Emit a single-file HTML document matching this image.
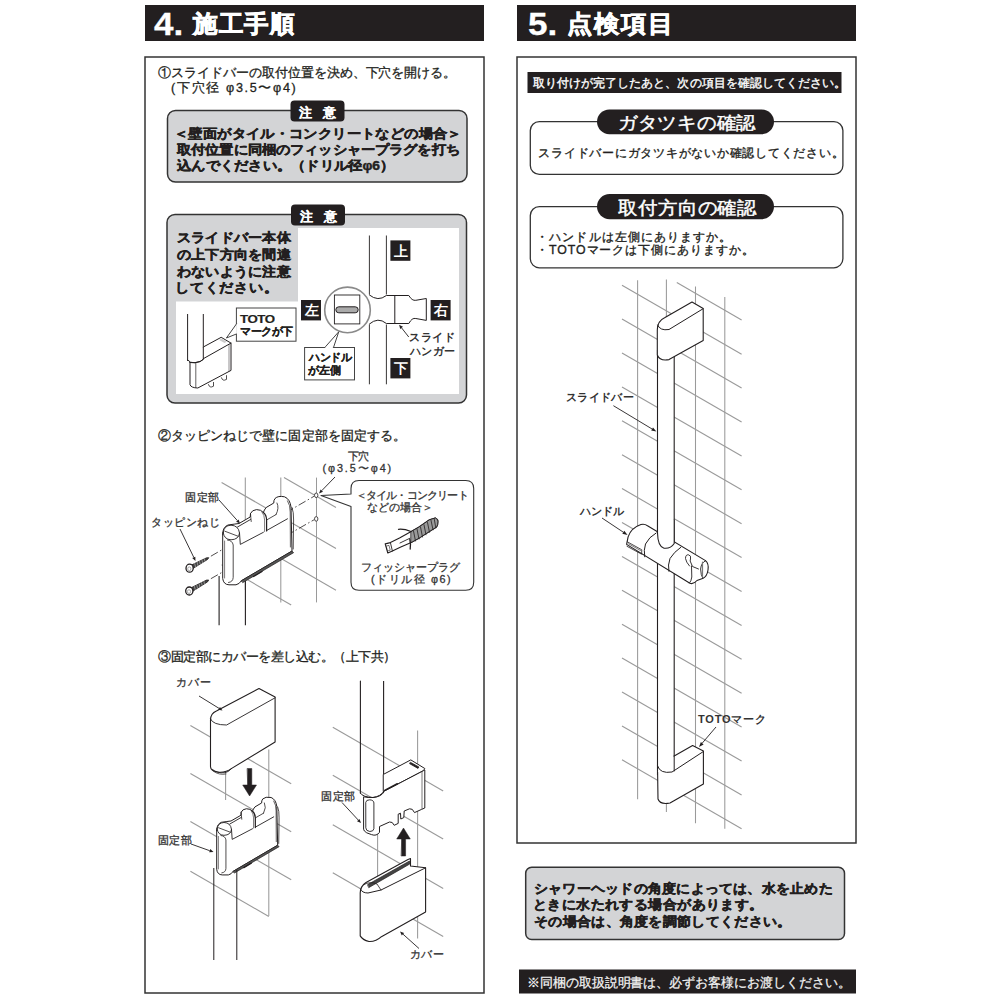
<!DOCTYPE html><html lang="ja"><head><meta charset="utf-8"><title>施工手順・点検項目</title><style>
html,body{margin:0;padding:0;background:#fff;}body{width:1000px;height:1000px;position:relative;overflow:hidden;font-family:"Liberation Sans",sans-serif;}
.t{position:absolute;white-space:nowrap;line-height:1;}
svg{position:absolute;left:0;top:0;}
</style></head><body>
<svg width="1000" height="1000" viewBox="0 0 1000 1000">
<rect x="145" y="5" width="339" height="36" rx="0" fill="#231f20" stroke="none" stroke-width="1" />
<rect x="145" y="57" width="339" height="936" rx="0" fill="none" stroke="#333" stroke-width="1.5" />
<rect x="167.5" y="110.5" width="299.5" height="71.5" rx="8" fill="#d3d4d6" stroke="#333" stroke-width="1.5" />
<rect x="290.5" y="100.5" width="54" height="21" rx="4" fill="#231f20" stroke="none" stroke-width="1" />
<rect x="167" y="214.5" width="299.5" height="188.5" rx="8" fill="#d3d4d6" stroke="#333" stroke-width="1.5" />
<rect x="298" y="228" width="161" height="166" rx="0" fill="#fff" stroke="none" stroke-width="1" />
<rect x="176" y="301.5" width="123" height="92.5" rx="0" fill="#fff" stroke="none" stroke-width="1" />
<rect x="291" y="204.5" width="54" height="21" rx="4" fill="#231f20" stroke="none" stroke-width="1" />
<line x1="187.6" y1="314" x2="187.6" y2="361" stroke="#231f20" stroke-width="1.0" />
<line x1="203.3" y1="314" x2="203.3" y2="347.5" stroke="#231f20" stroke-width="1.0" />
<path d="M190,362.5 L190,384.7 Q191,387.8 197.8,388 L231,370.4 L231,343.1 L221.2,337.3 L203.3,347 L203.3,359.4 Q201,362 195,362.6 Q192,362.8 190,362.5 Z" fill="#fff" stroke="#231f20" stroke-width="1.0" stroke-linejoin="round" stroke-linecap="round" />
<path d="M187.6,360 Q190,363.2 195,362.8 Q201,362.2 203.3,359.4" fill="none" stroke="#231f20" stroke-width="1.0" stroke-linejoin="round" stroke-linecap="round" />
<path d="M203.3,358.7 L231,343.1" fill="none" stroke="#231f20" stroke-width="1.0" stroke-linejoin="round" stroke-linecap="round" />
<path d="M195.8,363 L195.8,387.2" fill="none" stroke="#231f20" stroke-width="0.7" stroke-linejoin="round" stroke-linecap="round" />
<path d="M229,344.5 L229,371" fill="none" stroke="#231f20" stroke-width="0.5" stroke-linejoin="round" stroke-linecap="round" />
<path d="M208.5,384.6 Q209.5,388.5 213.5,386.2 L213.5,382.4 M221.5,377.8 Q222.5,381.7 226.5,379.4 L226.5,375.6" fill="none" stroke="#231f20" stroke-width="0.8" stroke-linejoin="round" stroke-linecap="round" />
<path d="M221.5,338.6 L226.8,341.8 L224.5,343.1 L219.2,340 Z" fill="#ccc" stroke="none" stroke-width="0" stroke-linejoin="round" stroke-linecap="round" />
<rect x="236.4" y="308" width="59.6" height="33.2" rx="0" fill="#fff" stroke="#444" stroke-width="1" />
<path d="M236.4,324 L226.4,338 L236.4,334" fill="#fff" stroke="#444" stroke-width="1" stroke-linejoin="round" stroke-linecap="round" />
<line x1="236.9" y1="324.5" x2="236.9" y2="333.5" stroke="#fff" stroke-width="1.4" />
<line x1="369.4" y1="235.5" x2="369.4" y2="294.5" stroke="#231f20" stroke-width="0.9" />
<line x1="386.4" y1="235.5" x2="386.4" y2="294.5" stroke="#231f20" stroke-width="0.9" />
<line x1="369.4" y1="324.5" x2="369.4" y2="384.3" stroke="#231f20" stroke-width="0.9" />
<line x1="386.4" y1="324.5" x2="386.4" y2="384.3" stroke="#231f20" stroke-width="0.9" />
<path d="M369.4,295 Q378,302 386.4,295.5 L408.8,295.5 Q412,301 415.8,300.3 L426.3,298.5 L426.3,320.4 L415.8,318.5 Q412,317.5 408.8,323.5 L386.4,323.5 Q378,316.5 369.4,324" fill="none" stroke="#231f20" stroke-width="1" stroke-linejoin="round" stroke-linecap="round" />
<line x1="394.8" y1="295.8" x2="394.8" y2="323.8" stroke="#231f20" stroke-width="1" />
<circle cx="347.5" cy="309.9" r="22.8" fill="#fff" stroke="#8a8a8a" stroke-width="1.6"/>
<rect x="334.4" y="295" width="25.4" height="28.9" rx="0" fill="#fff" stroke="#231f20" stroke-width="0.9" />
<rect x="335.8" y="306.8" width="22.4" height="6" rx="3" fill="#aaa" stroke="#231f20" stroke-width="1" />
<rect x="301" y="300" width="20" height="20.4" rx="0" fill="#231f20" stroke="none" stroke-width="1" />
<rect x="390.4" y="240.4" width="20" height="20.4" rx="0" fill="#231f20" stroke="none" stroke-width="1" />
<rect x="390.4" y="358" width="20" height="20.4" rx="0" fill="#231f20" stroke="none" stroke-width="1" />
<rect x="430.6" y="300" width="20" height="20.4" rx="0" fill="#231f20" stroke="none" stroke-width="1" />
<rect x="304.6" y="347.5" width="49.9" height="32.4" rx="0" fill="#fff" stroke="#444" stroke-width="1" />
<path d="M324.8,347.5 L338.75,331.75 L333.5,347.5" fill="#fff" stroke="#444" stroke-width="1" stroke-linejoin="round" stroke-linecap="round" />
<line x1="325.5" y1="347.5" x2="332.8" y2="347.5" stroke="#fff" stroke-width="1.4" />
<line x1="408.75" y1="337" x2="401.6" y2="327.9" stroke="#231f20" stroke-width="0.9"/>
<path d="M399.1,324.75 L403.0,326.8 L400.2,329.0 Z" fill="#231f20"/>
<line x1="245.3" y1="477.6" x2="245.3" y2="590" stroke="#9a9a9a" stroke-width="1.05" />
<line x1="280.8" y1="477.6" x2="280.8" y2="602.4" stroke="#9a9a9a" stroke-width="1.05" />
<line x1="316.5" y1="477.6" x2="316.5" y2="602.4" stroke="#9a9a9a" stroke-width="1.05" />
<line x1="221.6" y1="482.4" x2="336" y2="548.4" stroke="#9a9a9a" stroke-width="1.1" />
<line x1="284" y1="477.6" x2="336" y2="507.6" stroke="#9a9a9a" stroke-width="1.1" />
<line x1="230" y1="529.1" x2="336" y2="590.3" stroke="#9a9a9a" stroke-width="1.1" />
<line x1="221.6" y1="564.8" x2="291.2" y2="605.0" stroke="#9a9a9a" stroke-width="1.1" />
<line x1="210.9" y1="556.2" x2="314" y2="496.3" stroke="#231f20" stroke-width="0.8" stroke-dasharray="8,2.5,1.5,2.5"/>
<line x1="210.9" y1="578.7" x2="314" y2="519.8" stroke="#231f20" stroke-width="0.8" stroke-dasharray="8,2.5,1.5,2.5"/>
<line x1="219.1" y1="576" x2="219.1" y2="625.3" stroke="#231f20" stroke-width="1.1" />
<line x1="245.4" y1="581" x2="245.4" y2="625.3" stroke="#231f20" stroke-width="1.1" />
<g transform=""><path d="M222.7,534 L222.7,578.5 Q223.5,584.6 229,584.8 L236,584.8 Q239.5,584 241.4,580.7 L292,551 L291,507 Q290,499 284.5,496.8 Q278,495.5 275,498.5 Q273.5,500.5 273.8,503 L266.2,507.5 Q264,510 263.4,512.5 Q261,509.5 256.5,509.6 Q252,510 250.5,513.5 L250.2,517 L239,523.5 Q235,524 228,525 Q222.7,527 222.7,534 Z" fill="#fff" stroke="#231f20" stroke-width="1.0" stroke-linejoin="round" stroke-linecap="round" vector-effect="non-scaling-stroke"/><path d="M223.2,532.5 Q224,525.5 231,525.2 Q238.5,525.5 239.5,533 Q238.8,539.5 231,539.8 Q224,539.5 223.2,532.5 Z" fill="#fff" stroke="#231f20" stroke-width="0.9" stroke-linejoin="round" stroke-linecap="round" vector-effect="non-scaling-stroke"/><path d="M224.8,531.2 L238,536.2" fill="none" stroke="#231f20" stroke-width="0.8" stroke-linejoin="round" stroke-linecap="round" vector-effect="non-scaling-stroke"/><path d="M237.5,527 L250.5,519.5" fill="none" stroke="#231f20" stroke-width="0.9" stroke-linejoin="round" stroke-linecap="round" vector-effect="non-scaling-stroke"/><path d="M239.5,533 L240.3,544.4 L263.4,532.3" fill="none" stroke="#231f20" stroke-width="0.9" stroke-linejoin="round" stroke-linecap="round" vector-effect="non-scaling-stroke"/><path d="M250.5,513.5 Q250.8,518 251.2,521.5" fill="none" stroke="#231f20" stroke-width="0.8" stroke-linejoin="round" stroke-linecap="round" vector-effect="non-scaling-stroke"/><path d="M263.4,512.5 Q266.5,515 266.6,520 L266.6,531" fill="none" stroke="#231f20" stroke-width="1.2" stroke-linejoin="round" stroke-linecap="round" vector-effect="non-scaling-stroke"/><path d="M262,512 Q264.5,515 264.6,520 L264.6,531.5" fill="none" stroke="#231f20" stroke-width="0.6" stroke-linejoin="round" stroke-linecap="round" vector-effect="non-scaling-stroke"/><path d="M266.6,520 L276,514.6" fill="none" stroke="#231f20" stroke-width="0.8" stroke-linejoin="round" stroke-linecap="round" vector-effect="non-scaling-stroke"/><path d="M266.6,530.5 L287.5,518.8" fill="none" stroke="#231f20" stroke-width="0.9" stroke-linejoin="round" stroke-linecap="round" vector-effect="non-scaling-stroke"/><path d="M276,514.6 Q279.5,508 277,503" fill="none" stroke="#231f20" stroke-width="0.8" stroke-linejoin="round" stroke-linecap="round" vector-effect="non-scaling-stroke"/><path d="M287.5,500.8 Q290.3,505 290.2,512 L290.4,547" fill="none" stroke="#231f20" stroke-width="0.7" stroke-linejoin="round" stroke-linecap="round" vector-effect="non-scaling-stroke"/><path d="M292,507.5 Q293.8,512 293.6,520 L293.2,549" fill="none" stroke="#231f20" stroke-width="0.8" stroke-linejoin="round" stroke-linecap="round" vector-effect="non-scaling-stroke"/><path d="M227.5,540 Q232.5,540.5 233.2,545 L233.2,577.4 Q233,582 228.5,582.5" fill="none" stroke="#231f20" stroke-width="0.8" stroke-linejoin="round" stroke-linecap="round" vector-effect="non-scaling-stroke"/><path d="M224.6,541 L224.6,578" fill="none" stroke="#231f20" stroke-width="0.6" stroke-linejoin="round" stroke-linecap="round" vector-effect="non-scaling-stroke"/><path d="M241.4,580.7 L292,551 L293.6,552.7 L243,582.5 Z" fill="#555" stroke="#231f20" stroke-width="0.7" stroke-linejoin="round" stroke-linecap="round" vector-effect="non-scaling-stroke"/><path d="M253.5,576.5 L262,571.5" fill="none" stroke="#231f20" stroke-width="1.4" stroke-linejoin="round" stroke-linecap="round" vector-effect="non-scaling-stroke"/></g>
<path d="M193.3,568.3 L207.5,559.5 L208.8,557.7 L206.6,557.8 L191.5,565.0 Z" fill="#444" stroke="#231f20" stroke-width="0.8" stroke-linejoin="round" stroke-linecap="round" />
<path d="M195.6,566.9 L194.6,563.4" fill="none" stroke="#ddd" stroke-width="0.5" stroke-linejoin="round" stroke-linecap="round" />
<path d="M197.9,565.5 L197.1,562.3" fill="none" stroke="#ddd" stroke-width="0.5" stroke-linejoin="round" stroke-linecap="round" />
<path d="M200.2,564.1 L199.5,561.1" fill="none" stroke="#ddd" stroke-width="0.5" stroke-linejoin="round" stroke-linecap="round" />
<path d="M202.5,562.6 L202.0,560.0" fill="none" stroke="#ddd" stroke-width="0.5" stroke-linejoin="round" stroke-linecap="round" />
<path d="M204.8,561.2 L204.4,558.8" fill="none" stroke="#ddd" stroke-width="0.5" stroke-linejoin="round" stroke-linecap="round" />
<ellipse cx="189.6" cy="568.2" rx="3.6" ry="4.0" fill="#fff" stroke="#231f20" stroke-width="1.3"/>
<ellipse cx="189.29999999999998" cy="568.8000000000001" rx="1.6" ry="1.9" fill="none" stroke="#777" stroke-width="0.6"/>
<path d="M193.0,591.1 L207.5,581.9 L208.7,580.0 L206.5,580.1 L191.1,587.8 Z" fill="#444" stroke="#231f20" stroke-width="0.8" stroke-linejoin="round" stroke-linecap="round" />
<path d="M195.3,589.6 L194.3,586.2" fill="none" stroke="#ddd" stroke-width="0.5" stroke-linejoin="round" stroke-linecap="round" />
<path d="M197.6,588.1 L196.7,585.0" fill="none" stroke="#ddd" stroke-width="0.5" stroke-linejoin="round" stroke-linecap="round" />
<path d="M199.8,586.7 L199.1,583.8" fill="none" stroke="#ddd" stroke-width="0.5" stroke-linejoin="round" stroke-linecap="round" />
<path d="M202.1,585.2 L201.5,582.6" fill="none" stroke="#ddd" stroke-width="0.5" stroke-linejoin="round" stroke-linecap="round" />
<path d="M204.4,583.8 L204.0,581.4" fill="none" stroke="#ddd" stroke-width="0.5" stroke-linejoin="round" stroke-linecap="round" />
<ellipse cx="189.3" cy="591" rx="3.6" ry="4.0" fill="#fff" stroke="#231f20" stroke-width="1.3"/>
<ellipse cx="189.0" cy="591.6" rx="1.6" ry="1.9" fill="none" stroke="#777" stroke-width="0.6"/>
<ellipse cx="316.2" cy="495.3" rx="1.7" ry="2.3" fill="#fff" stroke="#231f20" stroke-width="0.8"/>
<ellipse cx="316.2" cy="518.9" rx="1.7" ry="2.3" fill="#fff" stroke="#231f20" stroke-width="0.8"/>
<line x1="219" y1="500" x2="237.3" y2="520.5" stroke="#231f20" stroke-width="0.9"/>
<path d="M240,523.5 L236.1,521.7 L238.6,519.4 Z" fill="#231f20"/>
<line x1="180" y1="529" x2="193.8" y2="557.4" stroke="#231f20" stroke-width="0.9"/>
<path d="M195.5,561 L192.2,558.1 L195.3,556.7 Z" fill="#231f20"/>
<line x1="335" y1="477" x2="321.8" y2="490.6" stroke="#231f20" stroke-width="0.9"/>
<path d="M319,493.5 L320.6,489.4 L323.0,491.8 Z" fill="#231f20"/>
<path d="M359,480.5 L465.7,480.5 Q473.7,480.5 473.7,488.5 L473.7,582.3 Q473.7,590.3 465.7,590.3 L359,590.3 Q351,590.3 351,582.3 L351,506.6 L321,495.5 L351,494 L351,488.5 Q351,480.5 359,480.5 Z" fill="#fff" stroke="#333" stroke-width="1.1" stroke-linejoin="round" stroke-linecap="round" />
<path d="M385.2,543.9 L390.4,542.6 L399.5,538 L411.2,531.5 L419,527 L429.4,519.8 L435.3,517.9 Q438.5,519.5 437.9,521.8 Q438,525 436.6,527 L429.4,531.5 L420.3,537.4 L411.2,542.6 L400.8,547.1 L392.4,551 L387.8,553 Z" fill="#fff" stroke="#231f20" stroke-width="1.1" stroke-linejoin="round" stroke-linecap="round" />
<path d="M390.4,542.6 L392.4,551" fill="none" stroke="#231f20" stroke-width="0.9" stroke-linejoin="round" stroke-linecap="round" />
<path d="M411.2,531.5 L419,527 L429.4,519.8 L435.3,517.9 Q438.5,519.5 437.9,521.8 Q438,525 436.6,527 L429.4,531.5 L420.3,537.4 L411.2,542.6 Z" fill="#9a9a9a" stroke="#231f20" stroke-width="0.9" stroke-linejoin="round" stroke-linecap="round" />
<path d="M413.5,531 L415.5,541 M417,529 L419,539 M420.5,527 L422.5,537 M424,524.8 L426,534.8 M427.5,522.5 L429.5,532.3 M431,520.3 L433,529.8 M434.2,518.8 L435.8,527.8" fill="none" stroke="#231f20" stroke-width="0.8" stroke-linejoin="round" stroke-linecap="round" />
<path d="M400,543 L410,538.2" fill="none" stroke="#231f20" stroke-width="0.9" stroke-linejoin="round" stroke-linecap="round" />
<path d="M398.5,529.3 Q404,528.7 411,531.5" fill="none" stroke="#231f20" stroke-width="1.3" stroke-linejoin="round" stroke-linecap="round" />
<path d="M409.8,539.5 Q411,544 410.2,549" fill="none" stroke="#231f20" stroke-width="1.3" stroke-linejoin="round" stroke-linecap="round" />
<path d="M386.5,546 L389,545.4 L390.2,550.2 L388,550.9 Z" fill="#fff" stroke="#231f20" stroke-width="0.6" stroke-linejoin="round" stroke-linecap="round" />
<line x1="190.4" y1="725.6" x2="291.2" y2="783.8" stroke="#9a9a9a" stroke-width="1.1" />
<line x1="190.4" y1="773.6" x2="291.2" y2="831.8" stroke="#9a9a9a" stroke-width="1.1" />
<line x1="190.4" y1="821.6" x2="291.2" y2="879.8" stroke="#9a9a9a" stroke-width="1.1" />
<line x1="190.4" y1="871.2" x2="268.8" y2="916.4" stroke="#9a9a9a" stroke-width="1.1" />
<line x1="225.6" y1="769" x2="225.6" y2="800" stroke="#9a9a9a" stroke-width="1.05" />
<line x1="268.8" y1="749.6" x2="268.8" y2="916" stroke="#9a9a9a" stroke-width="1.05" />
<path d="M210.5,720 Q210.5,713.5 216.4,711 L259,688.5 L275.1,697 L275.1,742 L231.7,768.4 Q226,772.6 219,772.2 Q210.5,771 210.5,766.7 Z" fill="#fff" stroke="#231f20" stroke-width="1.1" stroke-linejoin="round" stroke-linecap="round" />
<path d="M210.5,719 Q213,725 226.6,725 L275.1,697.8" fill="none" stroke="#231f20" stroke-width="0.9" stroke-linejoin="round" stroke-linecap="round" />
<path d="M212.5,769.5 Q217,773.5 224.9,772.7 Q228,772.5 231.7,768.4" fill="none" stroke="#231f20" stroke-width="0.9" stroke-linejoin="round" stroke-linecap="round" />
<path d="M213,771 Q219,775.5 226,774" fill="none" stroke="#231f20" stroke-width="0.7" stroke-linejoin="round" stroke-linecap="round" />
<path d="M247.4,768.5 L251.8,768.5 L251.8,785 L256.5,785 L249.6,796 L242.7,785 L247.4,785 Z" fill="#231f20" stroke="#231f20" stroke-width="0.5" stroke-linejoin="round" stroke-linecap="round" />
<g transform="translate(20.72,360.3) scale(0.88)"><path d="M222.7,534 L222.7,578.5 Q223.5,584.6 229,584.8 L236,584.8 Q239.5,584 241.4,580.7 L292,551 L291,507 Q290,499 284.5,496.8 Q278,495.5 275,498.5 Q273.5,500.5 273.8,503 L266.2,507.5 Q264,510 263.4,512.5 Q261,509.5 256.5,509.6 Q252,510 250.5,513.5 L250.2,517 L239,523.5 Q235,524 228,525 Q222.7,527 222.7,534 Z" fill="#fff" stroke="#231f20" stroke-width="1.0" stroke-linejoin="round" stroke-linecap="round" vector-effect="non-scaling-stroke"/><path d="M223.2,532.5 Q224,525.5 231,525.2 Q238.5,525.5 239.5,533 Q238.8,539.5 231,539.8 Q224,539.5 223.2,532.5 Z" fill="#fff" stroke="#231f20" stroke-width="0.9" stroke-linejoin="round" stroke-linecap="round" vector-effect="non-scaling-stroke"/><path d="M224.8,531.2 L238,536.2" fill="none" stroke="#231f20" stroke-width="0.8" stroke-linejoin="round" stroke-linecap="round" vector-effect="non-scaling-stroke"/><path d="M237.5,527 L250.5,519.5" fill="none" stroke="#231f20" stroke-width="0.9" stroke-linejoin="round" stroke-linecap="round" vector-effect="non-scaling-stroke"/><path d="M239.5,533 L240.3,544.4 L263.4,532.3" fill="none" stroke="#231f20" stroke-width="0.9" stroke-linejoin="round" stroke-linecap="round" vector-effect="non-scaling-stroke"/><path d="M250.5,513.5 Q250.8,518 251.2,521.5" fill="none" stroke="#231f20" stroke-width="0.8" stroke-linejoin="round" stroke-linecap="round" vector-effect="non-scaling-stroke"/><path d="M263.4,512.5 Q266.5,515 266.6,520 L266.6,531" fill="none" stroke="#231f20" stroke-width="1.2" stroke-linejoin="round" stroke-linecap="round" vector-effect="non-scaling-stroke"/><path d="M262,512 Q264.5,515 264.6,520 L264.6,531.5" fill="none" stroke="#231f20" stroke-width="0.6" stroke-linejoin="round" stroke-linecap="round" vector-effect="non-scaling-stroke"/><path d="M266.6,520 L276,514.6" fill="none" stroke="#231f20" stroke-width="0.8" stroke-linejoin="round" stroke-linecap="round" vector-effect="non-scaling-stroke"/><path d="M266.6,530.5 L287.5,518.8" fill="none" stroke="#231f20" stroke-width="0.9" stroke-linejoin="round" stroke-linecap="round" vector-effect="non-scaling-stroke"/><path d="M276,514.6 Q279.5,508 277,503" fill="none" stroke="#231f20" stroke-width="0.8" stroke-linejoin="round" stroke-linecap="round" vector-effect="non-scaling-stroke"/><path d="M287.5,500.8 Q290.3,505 290.2,512 L290.4,547" fill="none" stroke="#231f20" stroke-width="0.7" stroke-linejoin="round" stroke-linecap="round" vector-effect="non-scaling-stroke"/><path d="M292,507.5 Q293.8,512 293.6,520 L293.2,549" fill="none" stroke="#231f20" stroke-width="0.8" stroke-linejoin="round" stroke-linecap="round" vector-effect="non-scaling-stroke"/><path d="M227.5,540 Q232.5,540.5 233.2,545 L233.2,577.4 Q233,582 228.5,582.5" fill="none" stroke="#231f20" stroke-width="0.8" stroke-linejoin="round" stroke-linecap="round" vector-effect="non-scaling-stroke"/><path d="M224.6,541 L224.6,578" fill="none" stroke="#231f20" stroke-width="0.6" stroke-linejoin="round" stroke-linecap="round" vector-effect="non-scaling-stroke"/><path d="M241.4,580.7 L292,551 L293.6,552.7 L243,582.5 Z" fill="#555" stroke="#231f20" stroke-width="0.7" stroke-linejoin="round" stroke-linecap="round" vector-effect="non-scaling-stroke"/><path d="M253.5,576.5 L262,571.5" fill="none" stroke="#231f20" stroke-width="1.4" stroke-linejoin="round" stroke-linecap="round" vector-effect="non-scaling-stroke"/></g>
<line x1="213.8" y1="868" x2="213.8" y2="960" stroke="#231f20" stroke-width="1" />
<line x1="236.8" y1="870" x2="236.8" y2="960" stroke="#231f20" stroke-width="1" />
<line x1="191" y1="844" x2="209.7" y2="850.7" stroke="#231f20" stroke-width="0.9"/>
<path d="M213.5,852 L209.2,852.3 L210.3,849.1 Z" fill="#231f20"/>
<line x1="199" y1="696" x2="219.1" y2="708.4" stroke="#231f20" stroke-width="0.9"/>
<path d="M222.5,710.5 L218.2,709.8 L220.0,707.0 Z" fill="#231f20"/>
<line x1="332.8" y1="727.2" x2="443.2" y2="790.9" stroke="#9a9a9a" stroke-width="1.1" />
<line x1="332.8" y1="775.2" x2="443.2" y2="838.9" stroke="#9a9a9a" stroke-width="1.1" />
<line x1="332.8" y1="824.8" x2="443.2" y2="888.5" stroke="#9a9a9a" stroke-width="1.1" />
<line x1="332.8" y1="872.8" x2="443.2" y2="936.5" stroke="#9a9a9a" stroke-width="1.1" />
<line x1="417.6" y1="730.4" x2="417.6" y2="938.4" stroke="#9a9a9a" stroke-width="1.05" />
<line x1="377.6" y1="834" x2="377.6" y2="877.6" stroke="#9a9a9a" stroke-width="1.05" />
<line x1="383.6" y1="681" x2="383.6" y2="774.5" stroke="#231f20" stroke-width="1.1" />
<path d="M383.6,774.3 L410.8,759.9 L424.8,768.5 L423.4,770.7 L383.6,791.4 Z" fill="#fff" stroke="#231f20" stroke-width="1" stroke-linejoin="round" stroke-linecap="round" />
<path d="M410.6,762.4 L418.9,767 L418,768.4 L409.8,763.8 Z" fill="#231f20" stroke="#231f20" stroke-width="0.8" stroke-linejoin="round" stroke-linecap="round" />
<path d="M383.8,791.4 L423.4,770.7 L424.8,770 L424.8,808 L421.6,809.4 L418,811 L414.5,812.6 Q412.5,808 409.5,808.8 L404.2,811 L403.8,817.6 L400.8,819 L400.5,813.2 L398.2,814.2 L398.2,823.4 L394.2,825.3 Q392.5,821.3 389.5,822 L379.5,826.5 L379.5,832.3 Q376.5,836.5 371.5,834.6 L366.7,832.8 Q363.6,831 363.6,829.2 L363.6,796.8 Q368,797.8 373,797.5 Q380.5,796.5 383.8,791.4 Z" fill="#fff" stroke="#231f20" stroke-width="1.0" stroke-linejoin="round" stroke-linecap="round" />
<path d="M360.4,793.2 Q363,797.3 373,797.5 Q381,796.8 383.8,792.3" fill="none" stroke="#231f20" stroke-width="1.0" stroke-linejoin="round" stroke-linecap="round" />
<path d="M365.8,802 Q366,799.8 369.8,799.8 Q373.9,800.2 373.9,803 L373.9,828.8 Q373.5,831.5 369.8,831.5 Q365.8,831 365.8,828.2 Z" fill="none" stroke="#231f20" stroke-width="0.9" stroke-linejoin="round" stroke-linecap="round" />
<path d="M384.7,790.4 L397.3,783.8" fill="none" stroke="#231f20" stroke-width="1.6" stroke-linejoin="round" stroke-linecap="round" />
<path d="M422,771.8 L422,808.6" fill="none" stroke="#231f20" stroke-width="0.6" stroke-linejoin="round" stroke-linecap="round" />
<path d="M360.4,681 L360.4,793.2" fill="none" stroke="#231f20" stroke-width="1.1" stroke-linejoin="round" stroke-linecap="round" />
<path d="M401.4,856 L405.6,856 L405.6,839 L410.3,839 L403.5,828 L396.7,839 L401.4,839 Z" fill="#231f20" stroke="#231f20" stroke-width="0.5" stroke-linejoin="round" stroke-linecap="round" />
<path d="M360.2,893 Q360.5,886 366,882.5 L408,859.5 L410.5,858.5 L410.5,866 L425.6,867.8 L425.6,912 L381.4,936.7 Q376,941.8 369,941.5 Q362.7,940.1 360.2,935.9 Z" fill="#fff" stroke="#231f20" stroke-width="1.1" stroke-linejoin="round" stroke-linecap="round" />
<path d="M367.8,884.5 L409.5,861 L409.8,864 L369,887.5 Z" fill="#444" stroke="#231f20" stroke-width="0.7" stroke-linejoin="round" stroke-linecap="round" />
<path d="M360.4,889 Q362,893 368,893 L381,890 L425.6,867.8" fill="none" stroke="#231f20" stroke-width="1.0" stroke-linejoin="round" stroke-linecap="round" />
<path d="M364,884.5 Q370,881 377,884 L381,890" fill="none" stroke="#231f20" stroke-width="0.8" stroke-linejoin="round" stroke-linecap="round" />
<line x1="419" y1="948.5" x2="403.0" y2="934.2" stroke="#231f20" stroke-width="0.9"/>
<path d="M400,931.5 L404.1,932.9 L401.8,935.4 Z" fill="#231f20"/>
<line x1="342" y1="802.5" x2="358.3" y2="820.1" stroke="#231f20" stroke-width="0.9"/>
<path d="M361,823 L357.0,821.2 L359.5,818.9 Z" fill="#231f20"/>
<rect x="517" y="5" width="339" height="36" rx="0" fill="#231f20" stroke="none" stroke-width="1" />
<rect x="517" y="57" width="339" height="786" rx="0" fill="none" stroke="#333" stroke-width="1.5" />
<rect x="527.5" y="72" width="314" height="21" rx="0" fill="#231f20" stroke="none" stroke-width="1" />
<rect x="530.3" y="121.6" width="312.6" height="52.8" rx="9" fill="#fff" stroke="#333" stroke-width="1.3" />
<rect x="597" y="109.5" width="177" height="24.7" rx="12.35" fill="#231f20" stroke="none" stroke-width="1" />
<rect x="530.3" y="206.6" width="312.6" height="61.2" rx="9" fill="#fff" stroke="#333" stroke-width="1.3" />
<rect x="597" y="194" width="177" height="25.2" rx="12.6" fill="#231f20" stroke="none" stroke-width="1" />
<line x1="637.6" y1="280.2" x2="637.6" y2="799.2" stroke="#9a9a9a" stroke-width="1.05" />
<line x1="666.4" y1="279.4" x2="666.4" y2="812" stroke="#9a9a9a" stroke-width="1.05" />
<line x1="695.5" y1="286.6" x2="695.5" y2="823.2" stroke="#9a9a9a" stroke-width="1.05" />
<line x1="724.8" y1="297" x2="724.8" y2="828.8" stroke="#9a9a9a" stroke-width="1.05" />
<line x1="622" y1="285.2" x2="741.6" y2="354.2" stroke="#9a9a9a" stroke-width="1.1" />
<line x1="622" y1="319.1" x2="741.6" y2="388.1" stroke="#9a9a9a" stroke-width="1.1" />
<line x1="622" y1="353.0" x2="741.6" y2="422.0" stroke="#9a9a9a" stroke-width="1.1" />
<line x1="622" y1="386.9" x2="741.6" y2="455.9" stroke="#9a9a9a" stroke-width="1.1" />
<line x1="622" y1="420.8" x2="741.6" y2="489.8" stroke="#9a9a9a" stroke-width="1.1" />
<line x1="622" y1="454.7" x2="741.6" y2="523.7" stroke="#9a9a9a" stroke-width="1.1" />
<line x1="622" y1="488.6" x2="741.6" y2="557.6" stroke="#9a9a9a" stroke-width="1.1" />
<line x1="622" y1="522.5" x2="741.6" y2="591.5" stroke="#9a9a9a" stroke-width="1.1" />
<line x1="622" y1="556.4" x2="741.6" y2="625.4" stroke="#9a9a9a" stroke-width="1.1" />
<line x1="622" y1="590.3" x2="741.6" y2="659.3" stroke="#9a9a9a" stroke-width="1.1" />
<line x1="622" y1="624.2" x2="741.6" y2="693.2" stroke="#9a9a9a" stroke-width="1.1" />
<line x1="622" y1="658.1" x2="741.6" y2="727.1" stroke="#9a9a9a" stroke-width="1.1" />
<line x1="622" y1="692.0" x2="741.6" y2="761.0" stroke="#9a9a9a" stroke-width="1.1" />
<line x1="622" y1="725.9" x2="741.6" y2="794.9" stroke="#9a9a9a" stroke-width="1.1" />
<line x1="622" y1="759.8" x2="741.6" y2="828.8" stroke="#9a9a9a" stroke-width="1.1" />
<line x1="676.8" y1="282.6" x2="741.6" y2="320.0" stroke="#9a9a9a" stroke-width="1.1" />
<rect x="657.5" y="340" width="16.8" height="440" fill="#fff"/>
<line x1="657.5" y1="350" x2="657.5" y2="775" stroke="#231f20" stroke-width="1.1" />
<line x1="674.2" y1="355" x2="674.2" y2="760" stroke="#231f20" stroke-width="1.1" />
<path d="M657.3,330 Q657.3,321 665,317.5 L692,302 L703.2,308.4 L703.2,340.4 L669,359.6 Q660,361.5 657.3,355 Z" fill="#fff" stroke="#231f20" stroke-width="1.1" stroke-linejoin="round" stroke-linecap="round" />
<path d="M657.6,325 Q660,331 669,329.5 L703,308.8" fill="none" stroke="#231f20" stroke-width="1" stroke-linejoin="round" stroke-linecap="round" />
<path d="M674.2,756 L692.6,745.6 L703.4,751 L703.4,784 L670,803 Q660,805 658,799 L657.6,772" fill="#fff" stroke="#231f20" stroke-width="1.1" stroke-linejoin="round" stroke-linecap="round" />
<path d="M657.6,766 Q660,774 672,772 L703.4,751.5" fill="none" stroke="#231f20" stroke-width="1" stroke-linejoin="round" stroke-linecap="round" />
<path d="M674.2,756 L674.2,771" fill="none" stroke="#231f20" stroke-width="1" stroke-linejoin="round" stroke-linecap="round" />
<path d="M626.6,544.4 L628.1,536.8 Q631,528 640.9,524.5 Q644.5,523.5 647.5,525.8 L705.5,560.6 Q709,563.5 708,570 Q707,577 702.5,578.5 L697,580.5 Q693,585 689.5,583 L626.6,544.4 Z" fill="#fff" stroke="#231f20" stroke-width="1.1" stroke-linejoin="round" stroke-linecap="round" />
<path d="M656.1,533 Q649,537 645.5,544 Q643.5,550 644.7,556.8" fill="none" stroke="#231f20" stroke-width="1" stroke-linejoin="round" stroke-linecap="round" />
<path d="M627.3,541.8 L641.8,549.8 L641.6,554.2 L627,546.3" fill="none" stroke="#231f20" stroke-width="0.8" stroke-linejoin="round" stroke-linecap="round" />
<path d="M628.5,543.8 L640.5,550.5" fill="none" stroke="#231f20" stroke-width="0.6" stroke-linejoin="round" stroke-linecap="round" />
<path d="M680.8,547.3 Q674,552 670,558.5 Q667.6,565 668.9,571.3" fill="none" stroke="#231f20" stroke-width="1" stroke-linejoin="round" stroke-linecap="round" />
<path d="M705.5,560.8 Q701.3,562.5 700.6,569 Q700.8,575.5 702.8,578.3" fill="none" stroke="#231f20" stroke-width="0.9" stroke-linejoin="round" stroke-linecap="round" />
<path d="M702.5,562 L702.5,577" fill="none" stroke="#777" stroke-width="1.2" stroke-linejoin="round" stroke-linecap="round" />
<path d="M689.5,566 Q686,562 685.5,558.5 Q685.5,554.5 688.5,554.8 Q691.5,555.5 690.5,559 Q689.5,561 691,563 L692.5,566.5 L698.5,569 M691.5,566 L691.8,577 Q691.2,581.5 689.5,583" fill="none" stroke="#231f20" stroke-width="0.9" stroke-linejoin="round" stroke-linecap="round" />
<path d="M657.5,520 L657.5,533 Q657.8,546.5 664,548.2 Q670.5,549 674.2,543.5 L674.2,520 Z" fill="#fff" stroke="none" stroke-width="0" stroke-linejoin="round" stroke-linecap="round" />
<path d="M657.5,520 L657.5,533 Q657.8,546.5 664,548.2 Q670.5,549 674.2,543.5 L674.2,520" fill="none" stroke="#231f20" stroke-width="1.1" stroke-linejoin="round" stroke-linecap="round" />
<line x1="613.4" y1="405.7" x2="652.1" y2="429.0" stroke="#231f20" stroke-width="0.9"/>
<path d="M656.4,431.6 L651.2,430.6 L653.0,427.5 Z" fill="#231f20"/>
<line x1="602" y1="518" x2="623.3" y2="532.2" stroke="#231f20" stroke-width="0.9"/>
<path d="M627.5,535 L622.3,533.7 L624.3,530.7 Z" fill="#231f20"/>
<line x1="716" y1="727" x2="702.2" y2="743.2" stroke="#231f20" stroke-width="0.9"/>
<path d="M699,747 L700.9,742.0 L703.6,744.4 Z" fill="#231f20"/>
<rect x="525.7" y="867.2" width="318.8" height="72.3" rx="6" fill="#d3d4d6" stroke="#333" stroke-width="1.5" />
<rect x="519" y="969.5" width="337" height="24" rx="0" fill="#231f20" stroke="none" stroke-width="1" />
</svg>
<div class="t" style="left:158.0px;top:67.1px;font-size:12.6px;font-weight:400;color:#231f20;letter-spacing:-0.03px;-webkit-text-stroke:0.3px #231f20;">①スライドバーの取付位置を決め、下穴を開ける。</div>
<div class="t" style="left:171.0px;top:81.5px;font-size:12.6px;font-weight:400;color:#231f20;letter-spacing:1.67px;-webkit-text-stroke:0.3px #231f20;">(下穴径 φ3.5〜φ4)</div>
<div class="t" style="left:299.0px;top:105.8px;font-size:13.2px;font-weight:700;color:#fff;letter-spacing:-1.00px;-webkit-text-stroke:0.2px #fff;">注　意</div>
<div class="t" style="left:174.4px;top:128.0px;font-size:12.6px;font-weight:700;color:#231f20;letter-spacing:0.08px;-webkit-text-stroke:0.45px #231f20;transform:scaleX(1.1);transform-origin:0 0;">＜壁面がタイル・コンクリートなどの場合＞</div>
<div class="t" style="left:176.5px;top:144.2px;font-size:12.6px;font-weight:700;color:#231f20;letter-spacing:-0.14px;-webkit-text-stroke:0.45px #231f20;transform:scaleX(1.1);transform-origin:0 0;">取付位置に同梱のフィッシャープラグを打ち</div>
<div class="t" style="left:176.5px;top:160.2px;font-size:12.6px;font-weight:700;color:#231f20;letter-spacing:-0.03px;-webkit-text-stroke:0.45px #231f20;transform:scaleX(1.1);transform-origin:0 0;">込んでください。（ドリル径φ6）</div>
<div class="t" style="left:299.5px;top:209.5px;font-size:13.2px;font-weight:700;color:#fff;letter-spacing:-1.00px;-webkit-text-stroke:0.2px #fff;">注　意</div>
<div class="t" style="left:177.2px;top:231.8px;font-size:12.8px;font-weight:700;color:#231f20;letter-spacing:0.19px;-webkit-text-stroke:0.45px #231f20;transform:scaleX(1.08);transform-origin:0 0;">スライドバー本体</div>
<div class="t" style="left:177.2px;top:249.1px;font-size:12.8px;font-weight:700;color:#231f20;letter-spacing:0.19px;-webkit-text-stroke:0.45px #231f20;transform:scaleX(1.08);transform-origin:0 0;">の上下方向を間違</div>
<div class="t" style="left:177.2px;top:265.6px;font-size:12.8px;font-weight:700;color:#231f20;letter-spacing:0.19px;-webkit-text-stroke:0.45px #231f20;transform:scaleX(1.08);transform-origin:0 0;">わないように注意</div>
<div class="t" style="left:175.2px;top:282.0px;font-size:12.8px;font-weight:700;color:#231f20;letter-spacing:0.66px;-webkit-text-stroke:0.45px #231f20;transform:scaleX(1.08);transform-origin:0 0;">してください。</div>
<div class="t" style="left:240.0px;top:313.6px;font-size:10.6px;font-weight:700;color:#231f20;letter-spacing:-0.32px;-webkit-text-stroke:0.2px #231f20;transform:scaleX(1.25);transform-origin:0 0;">TOTO</div>
<div class="t" style="left:240.0px;top:326.1px;font-size:11.2px;font-weight:700;color:#231f20;letter-spacing:-0.50px;-webkit-text-stroke:0.2px #231f20;">マークが下</div>
<div class="t" style="left:304.5px;top:303.6px;font-size:13.5px;font-weight:700;color:#fff;">左</div>
<div class="t" style="left:393.9px;top:245.0px;font-size:13.5px;font-weight:700;color:#fff;">上</div>
<div class="t" style="left:393.9px;top:361.6px;font-size:13.5px;font-weight:700;color:#fff;">下</div>
<div class="t" style="left:434.1px;top:303.6px;font-size:13.5px;font-weight:700;color:#fff;">右</div>
<div class="t" style="left:309.0px;top:352.1px;font-size:11.2px;font-weight:700;color:#231f20;letter-spacing:-0.33px;-webkit-text-stroke:0.2px #231f20;">ハンドル</div>
<div class="t" style="left:308.0px;top:365.2px;font-size:11.2px;font-weight:700;color:#231f20;letter-spacing:-0.20px;-webkit-text-stroke:0.2px #231f20;">が左側</div>
<div class="t" style="left:408.6px;top:331.5px;font-size:11.2px;font-weight:700;color:#333;letter-spacing:0.93px;">スライド</div>
<div class="t" style="left:409.6px;top:346.0px;font-size:11.2px;font-weight:700;color:#333;letter-spacing:0.60px;">ハンガー</div>
<div class="t" style="left:158.3px;top:430.3px;font-size:12.6px;font-weight:400;color:#231f20;letter-spacing:0.02px;-webkit-text-stroke:0.3px #231f20;">②タッピンねじで壁に固定部を固定する。</div>
<div class="t" style="left:185.0px;top:491.5px;font-size:10.8px;font-weight:400;color:#333;letter-spacing:0.50px;-webkit-text-stroke:0.3px #333;">固定部</div>
<div class="t" style="left:151.4px;top:516.5px;font-size:10.8px;font-weight:400;color:#333;letter-spacing:0.52px;-webkit-text-stroke:0.3px #333;">タッピンねじ</div>
<div class="t" style="left:347.7px;top:451.2px;font-size:10.8px;font-weight:400;color:#333;letter-spacing:-0.20px;-webkit-text-stroke:0.3px #333;">下穴</div>
<div class="t" style="left:322.4px;top:463.3px;font-size:10.8px;font-weight:400;color:#333;letter-spacing:1.95px;-webkit-text-stroke:0.3px #333;">(φ3.5〜φ4)</div>
<div class="t" style="left:355.5px;top:490.1px;font-size:10.8px;font-weight:400;color:#333;letter-spacing:-0.78px;-webkit-text-stroke:0.3px #333;">＜タイル・コンクリート</div>
<div class="t" style="left:366.5px;top:502.2px;font-size:10.8px;font-weight:400;color:#333;letter-spacing:0.04px;-webkit-text-stroke:0.3px #333;">などの場合＞</div>
<div class="t" style="left:361.0px;top:561.5px;font-size:10.8px;font-weight:400;color:#333;letter-spacing:0.04px;-webkit-text-stroke:0.3px #333;">フィッシャープラグ</div>
<div class="t" style="left:371.0px;top:574.0px;font-size:10.8px;font-weight:400;color:#333;letter-spacing:1.55px;-webkit-text-stroke:0.3px #333;">(ドリル径 φ6)</div>
<div class="t" style="left:158.3px;top:651.2px;font-size:12.6px;font-weight:400;color:#231f20;letter-spacing:-0.51px;-webkit-text-stroke:0.3px #231f20;">③固定部にカバーを差し込む。（上下共）</div>
<div class="t" style="left:175.8px;top:677.4px;font-size:11.2px;font-weight:400;color:#333;letter-spacing:1.20px;-webkit-text-stroke:0.3px #333;">カバー</div>
<div class="t" style="left:157.7px;top:835.3px;font-size:10.8px;font-weight:400;color:#333;letter-spacing:0.45px;-webkit-text-stroke:0.3px #333;">固定部</div>
<div class="t" style="left:410.0px;top:949.0px;font-size:11.2px;font-weight:400;color:#333;letter-spacing:0.40px;-webkit-text-stroke:0.3px #333;">カバー</div>
<div class="t" style="left:321.0px;top:791.3px;font-size:10.8px;font-weight:400;color:#333;letter-spacing:0.50px;-webkit-text-stroke:0.3px #333;">固定部</div>
<div class="t" style="left:533.0px;top:78.4px;font-size:11.9px;font-weight:400;color:#fff;letter-spacing:0.04px;-webkit-text-stroke:0.35px #fff;">取り付けが完了したあと、次の項目を確認してください。</div>
<div class="t" style="left:617.5px;top:113.6px;font-size:18.4px;font-weight:400;color:#fff;letter-spacing:0.28px;-webkit-text-stroke:0.45px #fff;transform:scaleX(1.08);transform-origin:0 0;">ガタツキの確認</div>
<div class="t" style="left:538.3px;top:146.8px;font-size:12.3px;font-weight:400;color:#231f20;letter-spacing:0.76px;-webkit-text-stroke:0.35px #231f20;">スライドバーにガタツキがないか確認してください。</div>
<div class="t" style="left:617.5px;top:199.4px;font-size:18.4px;font-weight:400;color:#fff;letter-spacing:0.42px;-webkit-text-stroke:0.45px #fff;transform:scaleX(1.08);transform-origin:0 0;">取付方向の確認</div>
<div class="t" style="left:536.2px;top:230.7px;font-size:12.3px;font-weight:400;color:#231f20;letter-spacing:1.09px;-webkit-text-stroke:0.35px #231f20;">・ハンドルは左側にありますか。</div>
<div class="t" style="left:536.2px;top:243.8px;font-size:12.3px;font-weight:400;color:#231f20;letter-spacing:0.93px;-webkit-text-stroke:0.35px #231f20;">・TOTOマークは下側にありますか。</div>
<div class="t" style="left:566.0px;top:392.2px;font-size:11px;font-weight:700;color:#333;letter-spacing:0.34px;">スライドバー</div>
<div class="t" style="left:580.0px;top:506.0px;font-size:11px;font-weight:700;color:#333;">ハンドル</div>
<div class="t" style="left:698.0px;top:714.3px;font-size:11px;font-weight:700;color:#333;letter-spacing:0.83px;">TOTOマーク</div>
<div class="t" style="left:534.0px;top:881.7px;font-size:13.0px;font-weight:700;color:#231f20;letter-spacing:0.30px;-webkit-text-stroke:0.45px #231f20;transform:scaleX(1.07);transform-origin:0 0;">シャワーヘッドの角度によっては、水を止めた</div>
<div class="t" style="left:533.0px;top:897.8px;font-size:13.0px;font-weight:700;color:#231f20;letter-spacing:0.47px;-webkit-text-stroke:0.45px #231f20;transform:scaleX(1.07);transform-origin:0 0;">ときに水たれする場合があります。</div>
<div class="t" style="left:534.0px;top:915.1px;font-size:13.0px;font-weight:700;color:#231f20;letter-spacing:0.37px;-webkit-text-stroke:0.45px #231f20;transform:scaleX(1.07);transform-origin:0 0;">その場合は、角度を調節してください。</div>
<div class="t" style="left:526.8px;top:977.0px;font-size:12.6px;font-weight:400;color:#f4f4f4;letter-spacing:-0.04px;-webkit-text-stroke:0.25px #f4f4f4;">※同梱の取扱説明書は、必ずお客様にお渡しください。</div>
<div class="t" style="left:154.0px;top:9.1px;font-size:31px;font-weight:700;color:#fff;-webkit-text-stroke:0.3px #fff;transform:scaleX(1.13);transform-origin:0 0">4.</div>
<div class="t" style="left:193.2px;top:12.1px;font-size:24.2px;font-weight:700;color:#fff;letter-spacing:1.11px;-webkit-text-stroke:0.7px #fff;transform:scaleX(1.02);transform-origin:0 0;">施工手順</div>
<div class="t" style="left:528.0px;top:9.1px;font-size:31px;font-weight:700;color:#fff;-webkit-text-stroke:0.3px #fff;transform:scaleX(1.13);transform-origin:0 0">5.</div>
<div class="t" style="left:567.0px;top:13.4px;font-size:23.6px;font-weight:700;color:#fff;letter-spacing:1.59px;-webkit-text-stroke:0.7px #fff;transform:scaleX(1.05);transform-origin:0 0;">点検項目</div>
</body></html>
